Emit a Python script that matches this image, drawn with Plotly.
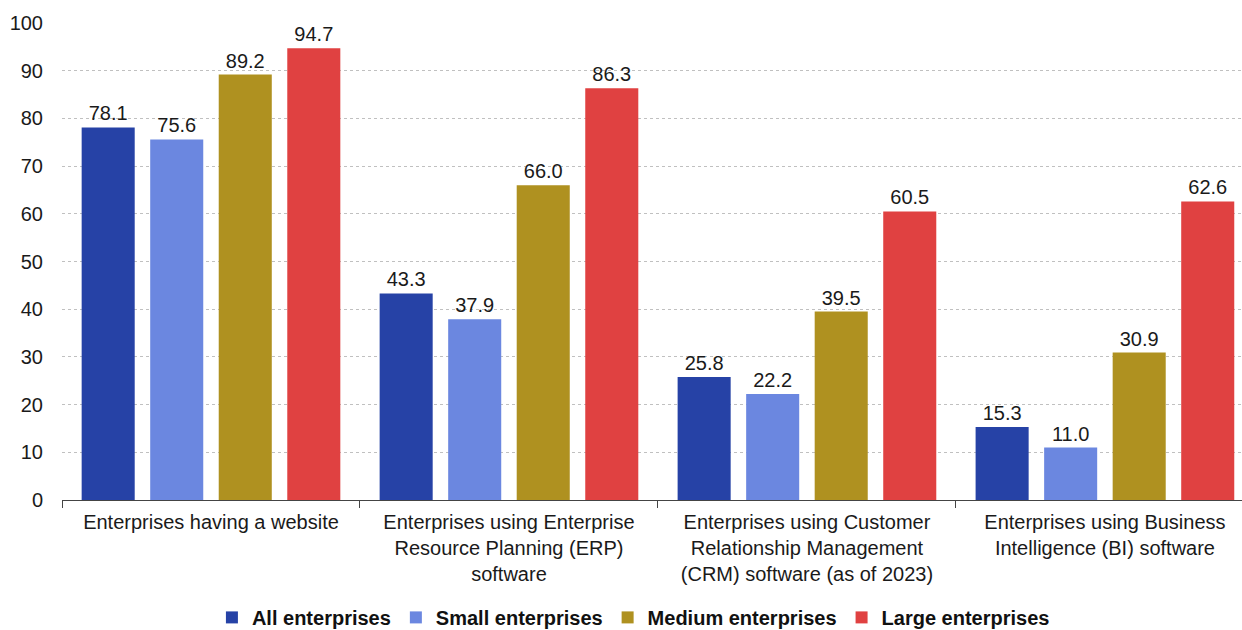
import plotly.graph_objects as go

categories = [
    "Enterprises having a website",
    "Enterprises using Enterprise<br>Resource Planning (ERP)<br>software",
    "Enterprises using Customer<br>Relationship Management<br>(CRM) software (as of 2023)",
    "Enterprises using Business<br>Intelligence (BI) software",
]
series_names = ["All enterprises", "Small enterprises", "Medium enterprises", "Large enterprises"]
all_ent = [78.1, 43.3, 25.8, 15.3]
small_ent = [75.6, 37.9, 22.2, 11.0]
medium_ent = [89.2, 66.0, 39.5, 30.9]
large_ent = [94.7, 86.3, 60.5, 62.6]
colors = ["#2642A6", "#6B87E0", "#AF9120", "#E04141"]
y_ticks = [0, 10, 20, 30, 40, 50, 60, 70, 80, 90, 100]

FONT = "Liberation Sans, Arial, sans-serif"

fig = go.Figure()
for name, vals, col in zip(series_names, [all_ent, small_ent, medium_ent, large_ent], colors):
    fig.add_trace(go.Bar(
        x=categories, y=vals, name=name,
        marker=dict(color=col, line=dict(width=0)),
        texttemplate="%{y:.1f}", textposition="outside",
        textfont=dict(size=20, color="#1a1a1a", family=FONT),
        cliponaxis=False,
    ))

fig.update_layout(
    width=1242, height=630,
    margin=dict(l=62, r=0, t=23, b=130),
    paper_bgcolor="white", plot_bgcolor="white",
    barmode="group", bargap=0.08, bargroupgap=0.226,
    font=dict(family=FONT, size=20, color="#1a1a1a"),
    showlegend=True,
    legend=dict(
        orientation="h", xref="container", yref="container",
        x=0.51, xanchor="center", y=0.02, yanchor="middle",
        font=dict(family=FONT, size=20, color="#111", weight="bold"),
        itemwidth=30, traceorder="normal",
    ),
)
fig.update_xaxes(
    range=[-0.5, 3.46], showline=True, linecolor="#444", linewidth=1,
    ticks="outside", tickson="boundaries", ticklen=7, tickcolor="#444",
    tickfont=dict(size=20, color="#1a1a1a", family=FONT), showgrid=False,
    ticklabelstandoff=4,
)
fig.update_yaxes(
    range=[0, 100], tickvals=y_ticks, showgrid=True, gridcolor="#c0c0c0",
    griddash="dot", gridwidth=1, zeroline=False, showline=False,
    tickfont=dict(size=20, color="#1a1a1a", family=FONT), ticklabelstandoff=18,
)

fig.write_html("out.html")
